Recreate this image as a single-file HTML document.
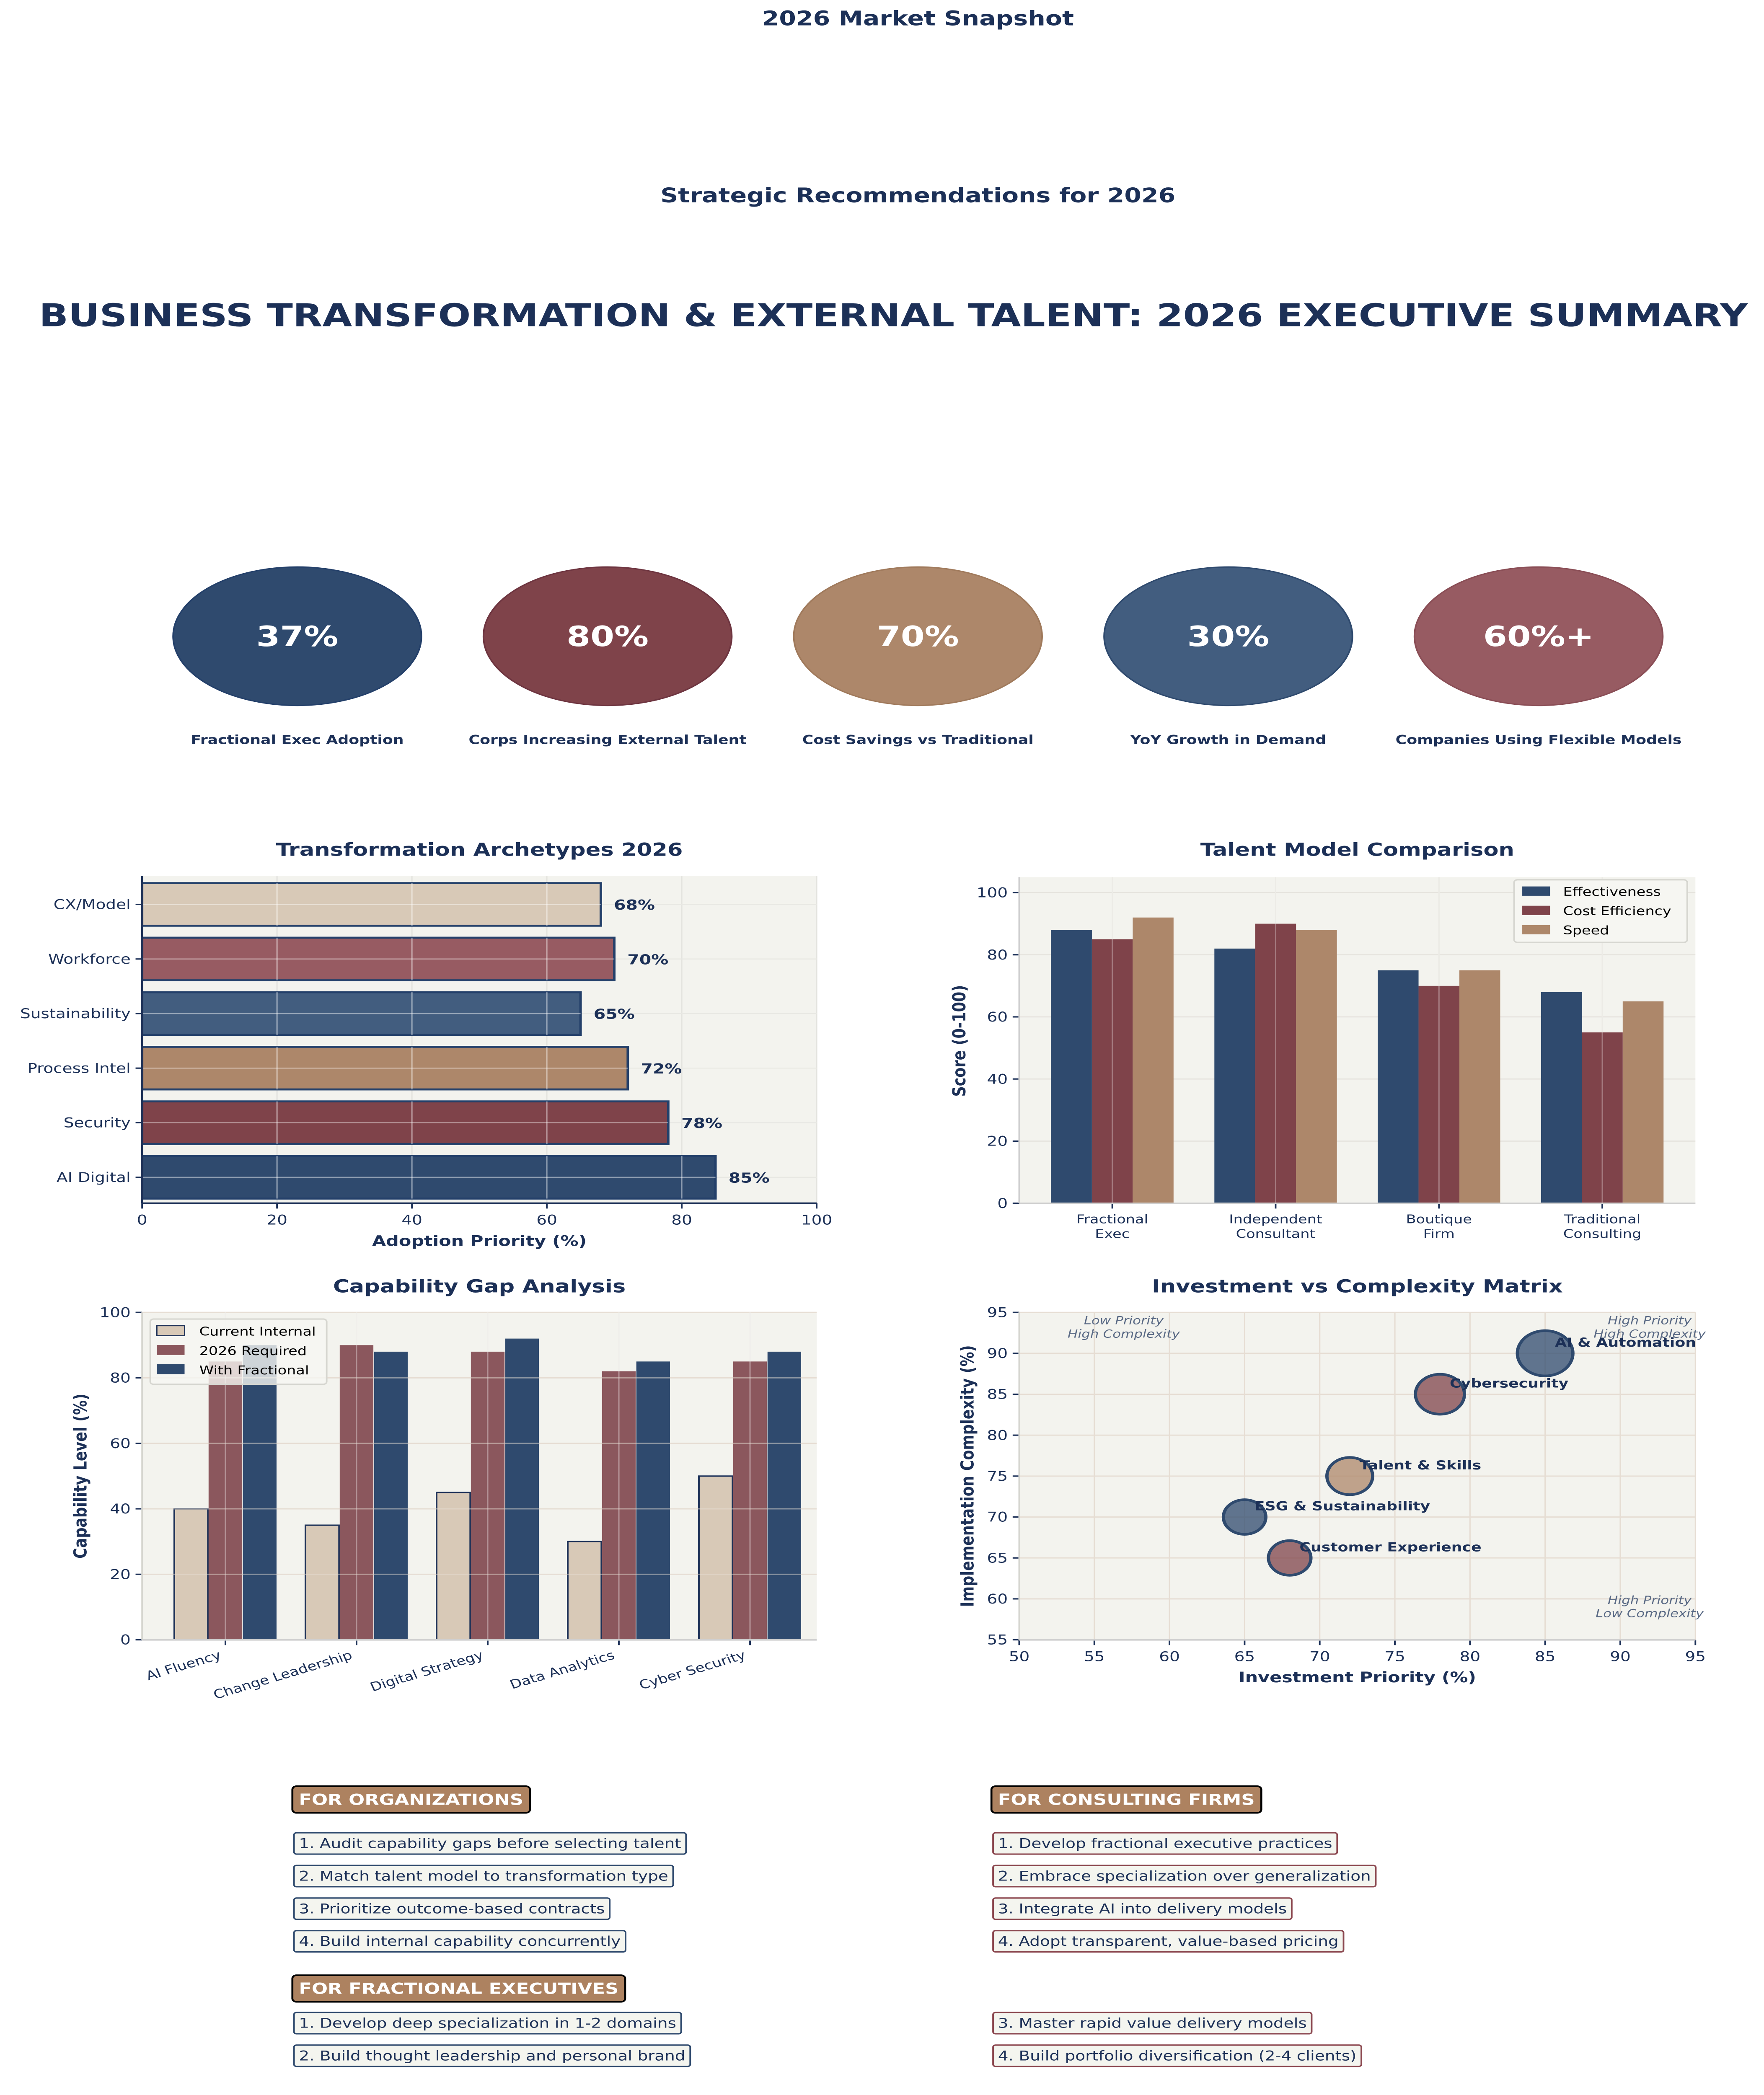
<!DOCTYPE html>
<html><head><meta charset="utf-8"><style>
html,body{margin:0;padding:0;background:#fff;width:100vw;height:100vh;overflow:hidden;}
svg{display:block;position:absolute;left:0;top:0;width:100vw;height:100vh;font-family:"DejaVu Sans","Liberation Sans",sans-serif;}
</style></head><body>
<svg id="s" viewBox="0 0 1080 1574" preserveAspectRatio="none" xmlns="http://www.w3.org/2000/svg">
<rect width="1080" height="1574" fill="#ffffff"/>
<g fill="#1c3057" font-weight="bold" text-anchor="middle">
<text x="562" y="19" font-size="15">2026 Market Snapshot</text>
<text x="562" y="152" font-size="15">Strategic Recommendations for 2026</text>
<text x="547" y="245" font-size="23.5">BUSINESS TRANSFORMATION &amp; EXTERNAL TALENT: 2026 EXECUTIVE SUMMARY</text>
</g>
<g id="kpis"></g>
<g id="c1"></g>
<g id="c2"></g>
<g id="c3"></g>
<g id="c4"></g>
<g id="recs"></g>
</svg>
<script>
// KPI data
const kpiValues=["37%","80%","70%","30%","60%+"];
const kpiLabels=["Fractional Exec Adoption","Corps Increasing External Talent","Cost Savings vs Traditional","YoY Growth in Demand","Companies Using Flexible Models"];
// Chart 1
const archCats=["AI Digital","Security","Process Intel","Sustainability","Workforce","CX/Model"];
const archVals=[85,78,72,65,70,68];
const archTicks=[0,20,40,60,80,100];
// Chart 2
const tmCats=[["Fractional","Exec"],["Independent","Consultant"],["Boutique","Firm"],["Traditional","Consulting"]];
const tmEff=[88,82,75,68];
const tmCost=[85,90,70,55];
const tmSpeed=[92,88,75,65];
const tmTicks=[0,20,40,60,80,100];
// Chart 3
const capCats=["AI Fluency","Change Leadership","Digital Strategy","Data Analytics","Cyber Security"];
const capCurrent=[40,35,45,30,50];
const capRequired=[85,90,88,82,85];
const capFractional=[90,88,92,85,88];
const capTicks=[0,20,40,60,80,100];
// Chart 4
const invNames=["AI & Automation","Cybersecurity","Talent & Skills","ESG & Sustainability","Customer Experience"];
const invX=[85,78,72,65,68];
const invY=[90,85,75,70,65];
const invSize=[17,15,14,13,13];
const invXTicks=[50,55,60,65,70,75,80,85,90,95];
const invYTicks=[55,60,65,70,75,80,85,90,95];
// Recommendations
const recOrg=["1. Audit capability gaps before selecting talent","2. Match talent model to transformation type","3. Prioritize outcome-based contracts","4. Build internal capability concurrently"];
const recFirm=["1. Develop fractional executive practices","2. Embrace specialization over generalization","3. Integrate AI into delivery models","4. Adopt transparent, value-based pricing"];
const recFracL=["1. Develop deep specialization in 1-2 domains","2. Build thought leadership and personal brand"];
const recFracR=["3. Master rapid value delivery models","4. Build portfolio diversification (2-4 clients)"];

const NS="http://www.w3.org/2000/svg";
const NAVY="#1c3057";
function el(parent,tag,attrs,text){const e=document.createElementNS(NS,tag);for(const k in attrs)e.setAttribute(k,attrs[k]);if(text!==undefined)e.textContent=text;parent.appendChild(e);return e;}

// KPIs
(function(){
 const g=document.getElementById('kpis');
 const cols=["#2f4a6e","#7f434a","#ad876a","#425d7f","#975b62"];
 const strokes=["#24406a","#6e3540","#a07a5c","#2f4a6e","#8a4e56"];
 kpiValues.forEach((v,i)=>{
  const cx=182+i*190;
  const e=el(g,'ellipse',{cx:cx,cy:478,rx:76,ry:52,fill:cols[i],stroke:strokes[i],'stroke-width':1});
  
  
  const t=el(g,'text',{x:cx,y:485.5,'text-anchor':'middle','font-size':21,'font-weight':'bold',fill:'#fff'},v);
  
  
  const l=el(g,'text',{x:cx,y:559,'text-anchor':'middle','font-size':9.3,'font-weight':'bold',fill:NAVY},kpiLabels[i]);
  
  
 });
})();

function frame(g,L,T,R,B,title,ty){
 el(g,'rect',{x:L,y:T,width:R-L,height:B-T,fill:'#f3f3ee'});
 const t=el(g,'text',{x:(L+R)/2,y:ty,'text-anchor':'middle','font-size':13.5,'font-weight':'bold',fill:NAVY},title);
 
 
}

// Chart 1
(function(){
 const g=document.getElementById('c1');
 const L=87,R=500,T=658,B=904;
 frame(g,L,T,R,B,"Transformation Archetypes 2026",643);
 const x=v=>L+v/100*(R-L);
 const band=(B-T)/archCats.length;
 const yc=i=>B-band*(i+0.5)+1;
 const cols=["#2f4a6e","#7f434a","#ad876a","#425d7f","#975b62","#d8c9b7"];
 archTicks.forEach(t=>{el(g,'line',{x1:x(t),x2:x(t),y1:T,y2:B,stroke:'#e4e4df','stroke-width':0.8});
  el(g,'line',{x1:x(t),x2:x(t),y1:B,y2:B+4,stroke:NAVY,'stroke-width':1});
  const tl=el(g,'text',{x:x(t),y:B+16,'text-anchor':'middle','font-size':10,fill:NAVY},t);
  
  });
 archCats.forEach((c,i)=>{
  el(g,'line',{x1:L,x2:R,y1:yc(i),y2:yc(i),stroke:'#e8e8e3','stroke-width':0.8});
 });
 archCats.forEach((c,i)=>{
  const b=el(g,'rect',{x:L,y:yc(i)-16,width:x(archVals[i])-L,height:32,fill:cols[i],stroke:'#24406a','stroke-width':1.5});
  
  
  archTicks.forEach(t=>{if(x(t)>L&&x(t)<x(archVals[i]))el(g,'line',{x1:x(t),x2:x(t),y1:yc(i)-16,y2:yc(i)+16,stroke:'rgba(255,255,255,0.45)','stroke-width':0.8});});
  el(g,'line',{x1:L,x2:x(archVals[i]),y1:yc(i),y2:yc(i),stroke:'rgba(255,255,255,0.45)','stroke-width':0.8});
  const vl=el(g,'text',{x:x(archVals[i])+8,y:yc(i)+4,'font-size':10.5,'font-weight':'bold',fill:NAVY},archVals[i]+'%');
  
  
  el(g,'line',{x1:L-4,x2:L,y1:yc(i),y2:yc(i),stroke:NAVY,'stroke-width':1});
  const cl=el(g,'text',{x:L-7,y:yc(i)+3.5,'text-anchor':'end','font-size':10,fill:NAVY},c);
  
  
 });
 el(g,'line',{x1:L,x2:L,y1:T,y2:B,stroke:NAVY,'stroke-width':1.2});
 el(g,'line',{x1:L,x2:R,y1:B,y2:B,stroke:NAVY,'stroke-width':1.2});
 const xl=el(g,'text',{x:(L+R)/2,y:936,'text-anchor':'middle','font-size':11,'font-weight':'bold',fill:NAVY},'Adoption Priority (%)');
 
 
})();

// Chart 2
(function(){
 const g=document.getElementById('c2');
 const L=624,R=1038,T=659,B=904;
 frame(g,L,T,R,B,"Talent Model Comparison",643);
 const y=v=>B-v/105*(B-T);
 const cx=i=>681+i*100;
 tmTicks.forEach(t=>{el(g,'line',{x1:L,x2:R,y1:y(t),y2:y(t),stroke:'#e4e2dc','stroke-width':0.8});
  el(g,'line',{x1:L-4,x2:L,y1:y(t),y2:y(t),stroke:NAVY});
  const tl=el(g,'text',{x:L-7,y:y(t)+3.5,'text-anchor':'end','font-size':10,fill:NAVY},t);
  
  });
 tmCats.forEach((c,i)=>el(g,'line',{x1:cx(i),x2:cx(i),y1:T,y2:B,stroke:'#e4e2dc','stroke-width':0.8}));
 const series=[[tmEff,"#2f4a6e",-25,'effectiveness'],[tmCost,"#7f434a",0,'cost-efficiency'],[tmSpeed,"#ad876a",25,'speed']];
 series.forEach(([vals,col,off,nm])=>{
  vals.forEach((v,i)=>{
   const b=el(g,'rect',{x:cx(i)+off-12.5,y:y(v),width:25,height:B-y(v),fill:col});
   
   
  });
 });
 tmCats.forEach((c,i)=>el(g,'line',{x1:cx(i),x2:cx(i),y1:T,y2:B,stroke:'rgba(255,255,255,0.3)','stroke-width':0.8}));
 tmCats.forEach((c,i)=>{
  el(g,'line',{x1:cx(i),x2:cx(i),y1:B,y2:B+4,stroke:NAVY});
  const t=el(g,'text',{x:cx(i),y:B+15,'text-anchor':'middle','font-size':9,fill:NAVY});
  
  
  el(t,'tspan',{x:cx(i),dy:0},c[0]);el(t,'tspan',{x:cx(i),dy:11},c[1]);
 });
 el(g,'line',{x1:L,x2:L,y1:T,y2:B,stroke:'#cfcfcf','stroke-width':1});
 el(g,'line',{x1:L,x2:R,y1:B,y2:B,stroke:'#cfcfcf','stroke-width':1});
 const yl=el(g,'text',{x:0,y:0,transform:'translate(591,782) rotate(-90)','text-anchor':'middle','font-size':11,'font-weight':'bold',fill:NAVY},'Score (0-100)');
 
 
 const lg=el(g,'g',{});
 
 
 el(lg,'rect',{x:927,y:661,width:106,height:47,rx:2,fill:'#f6f6f2',stroke:'#d6d6d0'});
 ["Effectiveness","Cost Efficiency","Speed"].forEach((n,i)=>{
  el(lg,'rect',{x:932,y:666+i*14.5,width:17,height:7,fill:series[i][1]});
  const t=el(lg,'text',{x:957,y:673+i*14.5,'font-size':9,fill:'#000'},n);
  
  
 });
})();

// Chart 3
(function(){
 const g=document.getElementById('c3');
 const L=87,R=500,T=986,B=1232;
 frame(g,L,T,R,B,"Capability Gap Analysis",971);
 const y=v=>B-v/100*(B-T);
 const cx=i=>138+i*80.3;
 capTicks.forEach(t=>{el(g,'line',{x1:L,x2:R,y1:y(t),y2:y(t),stroke:'#e6ddd3','stroke-width':0.9});
  el(g,'line',{x1:L-4,x2:L,y1:y(t),y2:y(t),stroke:NAVY});
  const tl=el(g,'text',{x:L-7,y:y(t)+3.5,'text-anchor':'end','font-size':10,fill:NAVY},t);
  
  });
 capCats.forEach((c,i)=>el(g,'line',{x1:cx(i),x2:cx(i),y1:T,y2:B,stroke:'#e8e6e0','stroke-width':0.8}));
 const series=[[capCurrent,"#d8c9b7",-21,'current-internal',NAVY],[capRequired,"#8b575d",0,'2026-required','none'],[capFractional,"#2f4a6e",21,'with-fractional','none']];
 series.forEach(([vals,col,off,nm,st])=>{
  vals.forEach((v,i)=>{
   const b=el(g,'rect',{x:cx(i)+off-10.3,y:y(v),width:20.6,height:B-y(v),fill:col,stroke:st,'stroke-width':1});
   
   
  });
 });
 capCats.forEach((c,i)=>el(g,'line',{x1:cx(i),x2:cx(i),y1:T,y2:B,stroke:'rgba(255,255,255,0.35)','stroke-width':0.8}));
 capTicks.forEach(t=>el(g,'line',{x1:L,x2:R,y1:y(t),y2:y(t),stroke:'rgba(230,221,211,0.5)','stroke-width':0.9}));
 capCats.forEach((c,i)=>{
  el(g,'line',{x1:cx(i),x2:cx(i),y1:B,y2:B+4,stroke:NAVY});
  const t=el(g,'text',{x:0,y:0,transform:`translate(${cx(i)-2},${B+14}) rotate(-20)`,'text-anchor':'end','font-size':9.3,fill:NAVY},c);
  
  
 });
 el(g,'line',{x1:L,x2:L,y1:T,y2:B,stroke:'#d6d6d0','stroke-width':1});
 el(g,'line',{x1:L,x2:R,y1:B,y2:B,stroke:'#cfcfcf','stroke-width':1.3});
 const yl=el(g,'text',{x:0,y:0,transform:'translate(53,1109) rotate(-90)','text-anchor':'middle','font-size':11,'font-weight':'bold',fill:NAVY},'Capability Level (%)');
 
 
 const lg=el(g,'g',{});
 
 
 el(lg,'rect',{x:92,y:991,width:108,height:49,rx:2,fill:'rgba(246,246,242,0.8)',stroke:'#d6d6d0'});
 ["Current Internal","2026 Required","With Fractional"].forEach((n,i)=>{
  el(lg,'rect',{x:96,y:996+i*14.5,width:17,height:7.5,fill:series[i][1],stroke:series[i][4],'stroke-width':0.8});
  const t=el(lg,'text',{x:122,y:1003.5+i*14.5,'font-size':9,fill:'#000'},n);
  
  
 });
})();

// Chart 4
(function(){
 const g=document.getElementById('c4');
 const L=624,R=1038,T=986,B=1232;
 frame(g,L,T,R,B,"Investment vs Complexity Matrix",971);
 const x=v=>L+(v-50)/45*(R-L);
 const y=v=>B-(v-55)/40*(B-T);
 invXTicks.forEach(t=>{el(g,'line',{x1:x(t),x2:x(t),y1:T,y2:B,stroke:'#e6ddd3','stroke-width':0.8});
  el(g,'line',{x1:x(t),x2:x(t),y1:B,y2:B+4,stroke:NAVY});
  const tl=el(g,'text',{x:x(t),y:B+16,'text-anchor':'middle','font-size':10,fill:NAVY},t);
  
  });
 invYTicks.forEach(t=>{el(g,'line',{x1:L,x2:R,y1:y(t),y2:y(t),stroke:'#e6ddd3','stroke-width':0.9});
  el(g,'line',{x1:L-4,x2:L,y1:y(t),y2:y(t),stroke:NAVY});
  const tl=el(g,'text',{x:L-7,y:y(t)+3.5,'text-anchor':'end','font-size':10,fill:NAVY},t);
  
  });
 const q=[[688,993,"Low Priority","High Complexity"],[1010,993,"High Priority","High Complexity"],[1010,1203,"High Priority","Low Complexity"]];
 q.forEach(a=>{const t=el(g,'text',{x:a[0],y:a[1]+2,'text-anchor':'middle','font-size':8.3,'font-style':'italic',fill:'#5a6a85'});
  
  
  el(t,'tspan',{x:a[0],dy:0},a[2]);el(t,'tspan',{x:a[0],dy:10},a[3]);});
 const cols=["#2f4a6e","#7f434a","#ad876a","#2f4a6e","#7f434a"];
 invNames.forEach((n,i)=>{
  const c=el(g,'circle',{cx:x(invX[i]),cy:y(invY[i]),r:invSize[i],fill:cols[i],'fill-opacity':0.75,stroke:'#2f4a6e','stroke-width':2});
  
  
 });
 invNames.forEach((n,i)=>{
  const t=el(g,'text',{x:x(invX[i])+6,y:y(invY[i])-5,'font-size':9.3,'font-weight':'bold',fill:NAVY},n);
  
  
 });
 el(g,'line',{x1:L,x2:L,y1:T,y2:B,stroke:'#d6d6d0','stroke-width':1});
 el(g,'line',{x1:L,x2:R,y1:B,y2:B,stroke:'#cfcfcf','stroke-width':1.3});
 const xl=el(g,'text',{x:(L+R)/2,y:1264,'text-anchor':'middle','font-size':11,'font-weight':'bold',fill:NAVY},'Investment Priority (%)');
 
 
 const yl=el(g,'text',{x:0,y:0,transform:'translate(596,1109) rotate(-90)','text-anchor':'middle','font-size':11,'font-weight':'bold',fill:NAVY},'Implementation Complexity (%)');
 
 
})();

// Recommendations
(function(){
 const g=document.getElementById('recs');
 function header(x,yTop,txt){
  const t=el(g,'text',{x:x+4,y:yTop+14,'font-size':11.5,'font-weight':'bold',fill:'#fff'},txt);
  
  
  const w=t.getComputedTextLength();
  const r=el(g,'rect',{x:x,y:yTop,width:w+8,height:20,rx:2.5,fill:'#ad8260',stroke:'#000','stroke-width':1.2});
  g.insertBefore(r,t);
 }
 function item(x,yTop,txt,col){
  const t=el(g,'text',{x:x+3,y:yTop+11.5,'font-size':10,fill:NAVY},txt);
  
  
  const w=t.getComputedTextLength();
  const r=el(g,'rect',{x:x,y:yTop,width:w+6,height:16,rx:1.5,fill:'#f4f5ef',stroke:col,'stroke-width':1});
  g.insertBefore(r,t);
 }
 header(179,1342,"FOR ORGANIZATIONS");
 header(607,1342,"FOR CONSULTING FIRMS");
 header(179,1484,"FOR FRACTIONAL EXECUTIVES");
 recOrg.forEach((s,i)=>item(180,1377+i*24.5,s,'#2f4a6e'));
 recFirm.forEach((s,i)=>item(608,1377+i*24.5,s,'#8b474f'));
 recFracL.forEach((s,i)=>item(180,1512+i*24.5,s,'#2f4a6e'));
 recFracR.forEach((s,i)=>item(608,1512+i*24.5,s,'#8b474f'));
})();
</script>
</body></html>
